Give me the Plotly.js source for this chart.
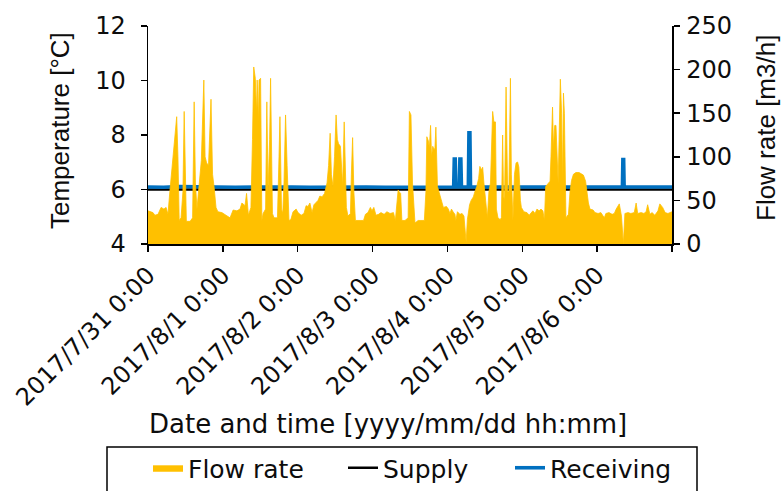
<!DOCTYPE html>
<html>
<head>
<meta charset="utf-8">
<script src="https://cdn.plot.ly/plotly-3.0.1.min.js"></script>
<style>
  html, body { margin: 0; padding: 0; background: #fff; }
  #chart { width: 783px; height: 491px; }
</style>
</head>
<body>
<div id="chart"></div>
<script>
// Hours elapsed since 2017/7/31 0:00 and flow rate [m3/h]
const flowHours = [
  0, 0.64, 1.6, 2.2, 3.2, 4.2, 5.1, 5.8, 6.4, 7.0,
  7.7, 8.3, 9.2, 9.6, 10.0, 10.6, 11.2, 11.6, 12.0, 12.3,
  13.5, 14.3, 14.8, 15.2, 15.7, 16.2, 16.7, 17.1, 17.9, 18.3,
  18.8, 19.4, 20.2, 20.7, 21.2, 21.8, 22.4, 23.7, 25.0, 26.3,
  27.3, 28.5, 29.5, 30.1, 31.1, 31.6, 32.2, 33.0, 33.5, 33.9,
  34.4, 34.8, 35.0, 35.4, 35.6, 36.1, 36.5, 36.9, 37.7, 38.1,
  38.5, 39.0, 39.3, 39.9, 40.4, 41.5, 42.0, 42.3, 42.8, 43.2,
  43.6, 44.1, 44.6, 45.2, 45.8, 46.5, 47.5, 48.1, 49.1, 50.0,
  50.7, 51.3, 51.9, 52.6, 53.2, 53.9, 54.5, 55.1, 55.8, 56.6,
  57.4, 57.9, 58.4, 58.8, 59.3, 59.8, 60.3, 60.7, 61.1, 61.7,
  62.0, 62.4, 62.9, 63.3, 63.6, 64.1, 64.9, 65.2, 65.6, 66.0,
  66.5, 68.0, 69.1, 69.7, 70.5, 71.3, 71.8, 72.4, 73.1, 73.9,
  74.7, 75.7, 76.6, 77.6, 78.7, 79.3, 79.8, 80.2, 80.5, 81.0,
  81.4, 82.4, 83.4, 83.8, 84.3, 84.8, 85.6, 86.6, 87.5, 88.6,
  89.1, 89.4, 89.9, 90.2, 90.6, 90.9, 91.3, 91.7, 92.0, 92.3,
  92.8, 93.3, 93.9, 94.7, 95.7, 96.3, 96.8, 97.3, 97.8, 98.4,
  98.7, 99.2, 100.0, 100.7, 101.3, 102.0, 102.4, 103.1, 103.6, 104.3,
  104.8, 105.4, 106.0, 106.4, 106.9, 107.3, 107.7, 108.2, 108.8, 109.3,
  109.8, 110.5, 110.9, 111.4, 111.7, 112.2, 112.9, 113.3, 113.7, 114.0,
  114.3, 114.8, 115.3, 115.7, 116.2, 116.5, 117.0, 117.5, 118.0, 118.5,
  118.9, 119.4, 119.7, 120.5, 121.5, 122.2, 122.8, 123.4, 124.1, 124.7,
  125.4, 126.0, 126.6, 127.1, 127.5, 128.3, 128.9, 129.2, 129.7, 130.0,
  130.4, 130.8, 131.1, 131.5, 131.8, 132.2, 132.6, 132.9, 133.2, 133.5,
  134.0, 134.8, 135.3, 135.8, 136.4, 137.2, 138.2, 139.0, 139.6, 140.3,
  140.8, 141.2, 141.7, 142.7, 143.3, 144.3, 145.2, 146.3, 146.8, 147.8,
  148.8, 149.5, 150.1, 150.7, 151.1, 151.8, 152.4, 152.9, 153.9, 154.8,
  155.9, 156.5, 157.0, 158.1, 159.0, 159.7, 160.2, 160.9, 161.6, 162.5,
  163.5, 164.1, 165.0, 165.8, 166.7, 168.0
];
const flowRate = [
  38, 37, 36, 33, 34, 42, 40, 42, 34, 60,
  90, 110, 146, 100, 27, 30, 60, 152, 60, 26,
  26, 30, 163, 70, 40, 60, 80, 96, 188, 100,
  93, 90, 166, 80, 65, 42, 37, 36, 33, 30,
  39, 38, 40, 47, 44, 58, 33, 42, 120, 203,
  190, 150, 188, 140, 188, 190, 27, 35, 40, 163,
  60, 120, 190, 35, 30, 30, 100, 146, 40, 35,
  70, 148, 90, 27, 28, 37, 40, 36, 33, 35,
  44, 43, 47, 36, 45, 48, 50, 55, 54, 58,
  70, 90, 127, 80, 66, 100, 148, 120, 115, 112,
  90, 66, 140, 80, 42, 32, 35, 80, 122, 60,
  27, 27, 27, 34, 36, 42, 38, 42, 33, 34,
  36, 34, 37, 35, 36, 27, 50, 62, 60, 58,
  27, 27, 30, 152, 148, 70, 24, 27, 27, 27,
  60, 123, 118, 110, 136, 100, 112, 108, 110, 134,
  66, 60, 50, 42, 43, 40, 35, 40, 37, 34,
  27, 37, 34, 35, 32, 2, 28, 45, 50, 54,
  60, 66, 75, 89, 85, 88, 70, 55, 30, 60,
  70, 152, 140, 140, 40, 30, 28, 30, 125, 55,
  50, 180, 60, 60, 190, 80, 27, 80, 93, 94,
  88, 50, 42, 37, 36, 33, 35, 38, 35, 40,
  38, 40, 38, 27, 66, 70, 72, 100, 157, 110,
  136, 136, 110, 70, 120, 189, 150, 70, 173, 150,
  30, 34, 60, 73, 80, 82, 82, 80, 79, 72,
  58, 47, 40, 39, 36, 35, 36, 30, 35, 36,
  34, 35, 40, 44, 46, 32, 0, 35, 36, 35,
  36, 47, 35, 36, 35, 37, 45, 34, 36, 33,
  38, 46, 42, 36, 35, 37
];

// Supply temperature [°C]
const supplyHours = [0, 24, 48, 72, 96, 120, 144, 168];
const supplyTemp  = [6.0, 6.0, 5.99, 6.0, 6.0, 6.01, 6.0, 6.0];

// Receiving temperature [°C]
const recvHours = [
  0, 5, 10, 16, 22, 28, 34, 40, 46, 52,
  58, 64, 70, 76, 82, 88, 94, 98.0, 98.2, 98.5,
  98.7, 99.8, 100.0, 100.3, 100.5, 102.7, 102.9, 103.2, 103.4, 108,
  114, 120, 126, 132, 138, 144, 150, 152.1, 152.25, 152.5,
  152.65, 158, 164, 168
];
const recvTemp = [
  6.09, 6.08, 6.11, 6.09, 6.1, 6.08, 6.09, 6.1, 6.09, 6.08,
  6.09, 6.1, 6.09, 6.08, 6.09, 6.1, 6.09, 6.09, 7.12, 7.12,
  6.09, 6.09, 7.12, 7.12, 6.09, 6.09, 8.08, 8.08, 6.09, 6.09,
  6.1, 6.09, 6.08, 6.09, 6.1, 6.09, 6.09, 6.09, 7.1, 7.1,
  6.09, 6.09, 6.1, 6.09
];

// Daily ticks
const dayTicks  = ['2017-07-31', '2017-08-01', '2017-08-02', '2017-08-03',
                   '2017-08-04', '2017-08-05', '2017-08-06', '2017-08-07'];
const dayLabels = ['2017/7/31 0:00', '2017/8/1 0:00', '2017/8/2 0:00', '2017/8/3 0:00',
                   '2017/8/4 0:00', '2017/8/5 0:00', '2017/8/6 0:00', ''];

const START_MS = Date.UTC(2017, 6, 31, 0, 0, 0);
function toDate(h) {
  const d = new Date(START_MS + h * 3600 * 1000);
  const p = n => String(n).padStart(2, '0');
  return d.getUTCFullYear() + '-' + p(d.getUTCMonth() + 1) + '-' + p(d.getUTCDate()) +
         ' ' + p(d.getUTCHours()) + ':' + p(d.getUTCMinutes()) + ':' + p(d.getUTCSeconds());
}

// Plot box in pixels, used to place titles and the legend frame in paper units
const BOX = { l: 148, r: 672, t: 26, b: 244 };
const px = x => (x - BOX.l) / (BOX.r - BOX.l);
const py = y => (BOX.b - y) / (BOX.b - BOX.t);

const WIDE = 'DejaVu Sans, Verdana, sans-serif';
const FONT = 'Liberation Sans, Arial, sans-serif';
const INK = '#0d0d0d';

const traces = [
  {
    name: 'Flow rate',
    x: flowHours.map(toDate), y: flowRate,
    type: 'scatter', mode: 'lines', yaxis: 'y2',
    fill: 'tozeroy', fillcolor: '#FFC000',
    line: { color: '#FFC000', width: 0.8 },
    legendwidth: 150
  },
  {
    name: 'Supply',
    x: supplyHours.map(toDate), y: supplyTemp,
    type: 'scatter', mode: 'lines',
    line: { color: '#000000', width: 2.5 },
    legendwidth: 122
  },
  {
    name: 'Receiving',
    x: recvHours.map(toDate), y: recvTemp,
    type: 'scatter', mode: 'lines',
    line: { color: '#0070C0', width: 3.6 }
  }
];

const axisCommon = {
  ticks: 'outside', ticklen: 6, tickwidth: 1.5, tickcolor: '#000',
  showline: true, linecolor: '#000', linewidth: 1.5,
  showgrid: false, zeroline: false,
  tickfont: { family: WIDE, size: 24, color: INK }
};

const layout = {
  width: 783, height: 491,
  margin: { l: 148, r: 111, t: 26, b: 247, autoexpand: false },
  paper_bgcolor: '#fff', plot_bgcolor: '#fff',
  font: { family: WIDE, size: 24, color: INK },
  showlegend: true,
  xaxis: Object.assign({}, axisCommon, {
    type: 'date',
    range: [toDate(0), toDate(168)],
    tickmode: 'array', tickvals: dayTicks, ticktext: dayLabels,
    tickangle: -45
  }),
  yaxis: Object.assign({}, axisCommon, {
    range: [4, 12], dtick: 2, tick0: 4,
    ticklabelstandoff: 10
  }),
  yaxis2: Object.assign({}, axisCommon, {
    overlaying: 'y', side: 'right',
    range: [0, 250], dtick: 50, tick0: 0,
    ticklabelstandoff: 2
  }),
  legend: {
    orientation: 'h',
    x: px(148), xanchor: 'left',
    y: py(445), yanchor: 'top',
    borderwidth: 0,
    bgcolor: 'rgba(0,0,0,0)',
    font: { family: WIDE, size: 25, color: INK },
    traceorder: 'normal'
  },
  shapes: [
    {
      type: 'rect', xref: 'paper', yref: 'paper',
      x0: px(107), x1: px(697), y0: py(447), y1: py(520),
      line: { color: '#000', width: 1.5 }, fillcolor: 'rgba(0,0,0,0)'
    }
  ],
  annotations: [
    {
      text: 'Temperature [°C]', textangle: -90,
      xref: 'paper', yref: 'paper', x: px(60), y: py(131),
      xanchor: 'center', yanchor: 'middle', showarrow: false,
      font: { family: FONT, size: 26, color: INK }
    },
    {
      text: 'Flow rate [m3/h]', textangle: -90,
      xref: 'paper', yref: 'paper', x: px(766), y: py(128),
      xanchor: 'center', yanchor: 'middle', showarrow: false,
      font: { family: FONT, size: 26, color: INK }
    },
    {
      text: 'Date and time [yyyy/mm/dd hh:mm]',
      xref: 'paper', yref: 'paper', x: px(388), y: py(424),
      xanchor: 'center', yanchor: 'middle', showarrow: false,
      font: { family: WIDE, size: 26, color: INK }
    }
  ]
};

Plotly.newPlot('chart', traces, layout, { displayModeBar: false, staticPlot: true });
</script>
</body>
</html>
